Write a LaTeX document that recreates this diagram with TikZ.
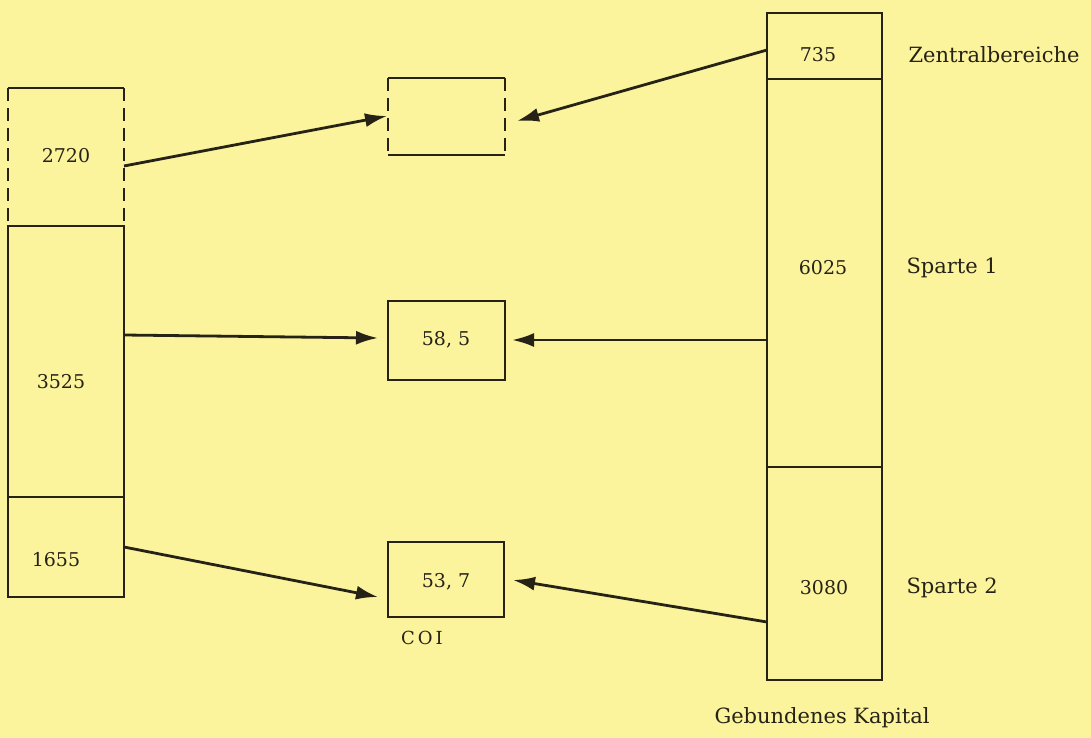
\documentclass[tikz,border=0pt]{standalone}
\usepackage{fontspec}
\setmainfont{DejaVu Serif}
\usetikzlibrary{arrows.meta}
\definecolor{bg}{RGB}{251,244,156}
\definecolor{ink}{RGB}{38,34,22}
\tikzset{
  line/.style={draw=ink, line width=2.8pt},
  dashline/.style={draw=ink, line width=2.8pt, dash pattern=on 13pt off 7pt},
  arr/.style={draw=ink, line width=2.8pt, -{Latex[length=22pt,width=14pt]}},
  num/.style={text=ink, font=\fontsize{19}{22}\selectfont},
  lab/.style={text=ink, font=\fontsize{21}{24}\selectfont},
  area/.style={draw=none, inner sep=0pt}
}
\begin{document}
\begin{tikzpicture}[x=1pt,y=-1pt]
\fill[bg] (0,0) rectangle (1091,738);
\useasboundingbox (0,0) rectangle (1091,738);
% left column
\draw[line] (8,226) rectangle (124,597);
\draw[line] (8,497) -- (124,497);
\draw[line] (8,88) -- (124,88);
\draw[dashline] (8,88) -- (8,226);
\draw[dashline] (124,88) -- (124,226);
\node[num] (L1) at (66,156) {2720};
\node[num] (L2) at (61,382) {3525};
\node[num] (L3) at (56,560) {1655};
% middle boxes
\draw[line] (388,78) -- (505,78);
\draw[line] (388,155) -- (505,155);
\draw[dashline] (388,78) -- (388,155);
\draw[dashline] (505,78) -- (505,155);
\node[area, minimum width=117pt, minimum height=77pt] (M1) at (446.5,116.5) {};
\draw[line] (388,301) rectangle (505,380);
\node[num] (M2) at (446,340) {58, 5};
\draw[line] (388,542) rectangle (504,617);
\node[num] (M3) at (446,582) {53, 7};
\node[lab, font=\fontsize{18}{22}\selectfont] (coi) at (422,638) {C\,O\,I};
% right column
\draw[line] (767,13) rectangle (882,680);
\draw[line] (767,79) -- (882,79);
\draw[line] (767,467) -- (882,467);
\node[num] (R1) at (818,55) {735};
\node[num] (R2) at (823,268) {6025};
\node[num] (R3) at (824,588) {3080};
\node[lab, anchor=west] (t1) at (905,55) {Zentralbereiche};
\node[lab, anchor=west] (t2) at (903,268) {Sparte 1};
\node[lab, anchor=west] (t3) at (903,588) {Sparte 2};
\node[lab] (t4) at (822,718) {Gebundenes Kapital};
% connector coordinates
\coordinate (a1s) at (124,166);
\coordinate (a1e) at (387,116);
\coordinate (a2s) at (767,50);
\coordinate (a2e) at (517,121);
\coordinate (a3s) at (124,335);
\coordinate (a3e) at (378,338);
\coordinate (a4s) at (767,340);
\coordinate (a4e) at (512,340);
\coordinate (a5s) at (124,547);
\coordinate (a5e) at (378,597);
\coordinate (a6s) at (767,622);
\coordinate (a6e) at (513,580);
\draw[arr] (a1s) -- (a1e);
\draw[arr] (a2s) -- (a2e);
\draw[arr] (a3s) -- (a3e);
\draw[arr] (a4s) -- (a4e);
\draw[arr] (a5s) -- (a5e);
\draw[arr] (a6s) -- (a6e);
\end{tikzpicture}
\end{document}
